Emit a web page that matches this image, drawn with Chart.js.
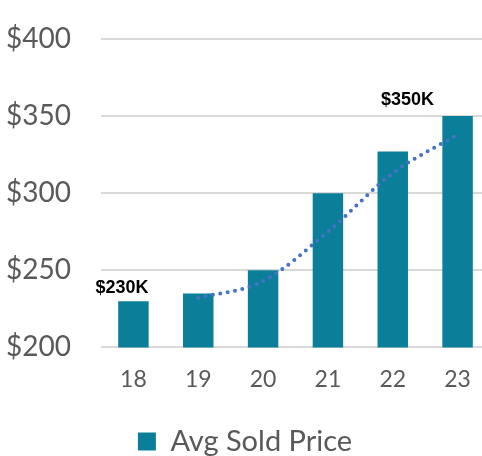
<!DOCTYPE html>
<html>
<head>
<meta charset="utf-8">
<script src="https://cdn.jsdelivr.net/npm/chart.js@4/dist/chart.umd.min.js"></script>
<style>
html, body { margin: 0; padding: 0; background: #fff; overflow: hidden; }
#wrap { width: 482px; height: 456px; overflow: hidden; }
</style>
</head>
<body>
<div id="wrap"><canvas id="myChart" width="490" height="456"></canvas></div>
<script>
const years = ['18', '19', '20', '21', '22', '23'];
const avgPrice = [230, 235, 250, 300, 327, 350];
const trendValues = [null, 232, 243, 275, 313, 338];
const callouts = ['$230K', '', '', '', '', '$350K'];
const yTicks = [200, 250, 300, 350, 400];

const barColor = '#0b7f9a';
const trendColor = '#4472c4';

// callout text above the first and last bars
const calloutPlugin = {
    id: 'callouts',
    afterDatasetsDraw(chart) {
        const ctx = chart.ctx;
        const bars = chart.getDatasetMeta(1).data;
        ctx.save();
        ctx.font = 'bold 18px "Liberation Sans", Arial, sans-serif';
        ctx.fillStyle = '#000';
        ctx.textAlign = 'center';
        ctx.textBaseline = 'alphabetic';
        for (let i = 0; i < callouts.length; i++) {
            if (!callouts[i]) continue;
            let shift = (i == 0) ? -11.5 : -50;
            let lift = (i == 0) ? 8 : 11;
            ctx.fillText(callouts[i], bars[i].x + shift, bars[i].y - lift);
        }
        ctx.restore();
    }
};

new Chart(document.getElementById('myChart'), {
    data: {
        labels: years,
        datasets: [
            {
                type: 'line',
                label: 'trend',
                data: trendValues,
                borderColor: trendColor,
                borderWidth: 4,
                borderDash: [0, 7.5],
                borderCapStyle: 'round',
                pointRadius: 0,
                tension: 0.4,
                cubicInterpolationMode: 'monotone',
                fill: false,
                order: 0
            },
            {
                type: 'bar',
                label: 'Avg Sold Price',
                data: avgPrice,
                backgroundColor: barColor,
                borderWidth: 0,
                barPercentage: 0.47,
                categoryPercentage: 1,
                order: 1
            }
        ]
    },
    options: {
        responsive: false,
        animation: false,
        layout: { padding: { top: 39, right: 0, left: 0, bottom: -10 } },
        plugins: {
            tooltip: { enabled: false },
            legend: {
                position: 'bottom',
                labels: {
                    filter: item => item.text != 'trend',
                    font: { family: 'Lato', size: 29 },
                    color: '#595959',
                    boxWidth: 18,
                    boxHeight: 18,
                    padding: 8
                }
            }
        },
        scales: {
            x: {
                afterFit: scale => { scale.height += 8; },
                grid: { display: false, drawTicks: false },
                border: { display: false },
                ticks: { font: { family: 'Lato', size: 23 }, color: '#595959', padding: 18 }
            },
            y: {
                min: 200,
                max: 400,
                afterFit: scale => { scale.width = 101; },
                afterBuildTicks: scale => { scale.ticks = yTicks.map(v => ({ value: v })); },
                grid: { color: '#d9d9d9', lineWidth: 2, drawTicks: true, tickLength: 30, tickColor: 'rgba(0,0,0,0)' },
                border: { display: false },
                ticks: {
                    font: { family: 'Lato', size: 28 },
                    color: '#595959',
                    padding: 0,
                    callback: v => '$' + v
                }
            }
        }
    },
    plugins: [calloutPlugin]
});
</script>
</body>
</html>
